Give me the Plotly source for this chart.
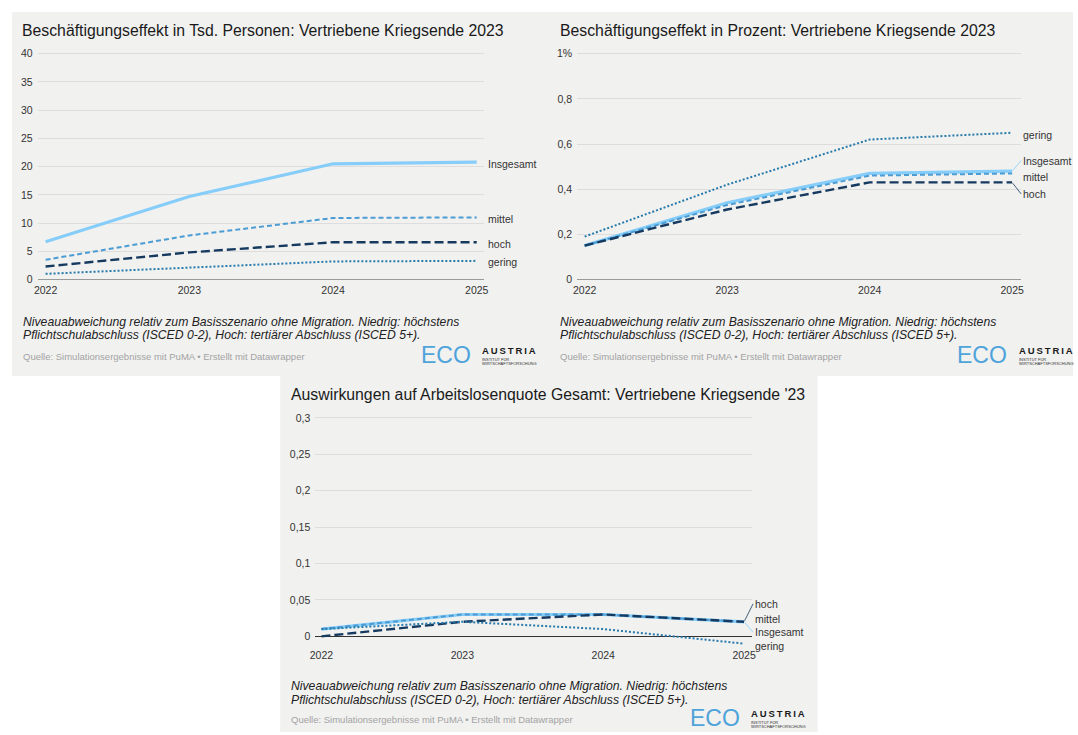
import plotly.graph_objects as go

W, H = 1078, 735
FONT = "Liberation Sans, Arial, Helvetica, sans-serif"

# ---------------------------------------------------------------- data
years = [2022, 2023, 2024, 2025]
year_labels = ["2022", "2023", "2024", "2025"]

# Beschäftigungseffekt in Tsd. Personen
tsd_insgesamt = [6.7, 14.7, 20.5, 20.8]
tsd_mittel = [3.5, 7.8, 10.9, 11.0]
tsd_hoch = [2.3, 4.8, 6.6, 6.6]
tsd_gering = [1.0, 2.1, 3.2, 3.3]
tsd_ticks = [0, 5, 10, 15, 20, 25, 30, 35, 40]
tsd_ticktext = ["0", "5", "10", "15", "20", "25", "30", "35", "40"]

# Beschäftigungseffekt in Prozent
pct_insgesamt = [0.15, 0.34, 0.47, 0.48]
pct_mittel = [0.15, 0.33, 0.46, 0.47]
pct_hoch = [0.15, 0.31, 0.43, 0.43]
pct_gering = [0.19, 0.42, 0.62, 0.65]
pct_ticks = [0, 0.2, 0.4, 0.6, 0.8, 1.0]
pct_ticktext = ["0", "0,2", "0,4", "0,6", "0,8", "1%"]

# Auswirkungen auf die Arbeitslosenquote
alq_insgesamt = [0.01, 0.03, 0.03, 0.02]
alq_mittel = [0.01, 0.03, 0.03, 0.02]
alq_hoch = [0.0, 0.02, 0.03, 0.02]
alq_gering = [0.01, 0.02, 0.01, -0.01]
alq_ticks = [0, 0.05, 0.1, 0.15, 0.2, 0.25, 0.3]
alq_ticktext = ["0", "0,05", "0,1", "0,15", "0,2", "0,25", "0,3"]

titles = [
    "Beschäftigungseffekt in Tsd. Personen: Vertriebene Kriegsende 2023",
    "Beschäftigungseffekt in Prozent: Vertriebene Kriegsende 2023",
    "Auswirkungen auf Arbeitslosenquote Gesamt: Vertriebene Kriegsende '23",
]
note_line1 = "Niveauabweichung relativ zum Basisszenario ohne Migration. Niedrig: höchstens"
note_line2 = "Pflichtschulabschluss (ISCED 0-2), Hoch: tertiärer Abschluss (ISCED 5+)."
source = "Quelle: Simulationsergebnisse mit PuMA • Erstellt mit Datawrapper"

# ---------------------------------------------------------------- styles
STYLE = {
    "Insgesamt": dict(color="#86cdf9", width=3.2, dash="solid"),
    "mittel": dict(color="#4b9cd3", width=2.0, dash="5px,3px"),
    "hoch": dict(color="#163a5f", width=2.4, dash="9px,4px"),
    "gering": dict(color="#2679ab", width=2.0, dash="2px,2px"),
}
ORDER = ["Insgesamt", "mittel", "hoch", "gering"]
BG = "#f1f1f0"
GRID = "#dddddd"
TXT = "#333333"


def px_x(p):
    return p / W


def px_y(p):
    return 1 - p / H


def x_axis_geom(px_first, px_last, px_lo, px_hi):
    step = (px_last - px_first) / (len(years) - 1)
    lo = years[0] + (px_lo - px_first) / step
    hi = years[-1] + (px_hi - px_last) / step
    return [px_x(px_lo), px_x(px_hi)], [lo, hi]


def y_axis_geom(px_zero, px_top, top_val, lo, hi):
    s = (px_zero - px_top) / top_val
    bottom = px_zero - lo * s
    top = px_zero - hi * s
    return [px_y(bottom), px_y(top)], [lo, hi]


# panel geometry (pixels)
panels = [
    dict(
        data={"Insgesamt": tsd_insgesamt, "mittel": tsd_mittel,
              "hoch": tsd_hoch, "gering": tsd_gering},
        ticks=tsd_ticks, ticktext=tsd_ticktext, top_val=40,
        x=(40, 475.6, 32, 483), y=(277.5, 49.3), yrange=(-0.4, 40.25),
        base_color="#9a9a9a", base_width=1.8, xpos=None,
        label_dy={"Insgesamt": 1.5, "mittel": 1.5, "hoch": 1.5, "gering": 1.5},
        connectors=set(),
        left=14.6, title_y=25.5, note_y=320, src_y=355.5, logo_x=417, logo_y=354,
    ),
    dict(
        data={"Insgesamt": pct_insgesamt, "mittel": pct_mittel,
              "hoch": pct_hoch, "gering": pct_gering},
        ticks=pct_ticks, ticktext=pct_ticktext, top_val=1.0,
        x=(584.6, 1016.5, 577, 1025), y=(277.5, 49.3), yrange=(-0.01, 1.006),
        base_color="#9a9a9a", base_width=1.8, xpos=None,
        label_dy={"Insgesamt": -10.5, "mittel": 4, "hoch": 11.5, "gering": 2},
        connectors={"Insgesamt", "hoch"},
        left=557.2, title_y=25.5, note_y=320, src_y=355.5, logo_x=959, logo_y=354,
    ),
    dict(
        data={"Insgesamt": alq_insgesamt, "mittel": alq_mittel,
              "hoch": alq_hoch, "gering": alq_gering},
        ticks=alq_ticks, ticktext=alq_ticktext, top_val=0.3,
        x=(318.7, 745.7, 312.5, 753.9), y=(638.3, 417.4), yrange=(-0.02, 0.302),
        base_color="#333333", base_width=1.0, xpos=648.5,
        label_dy={"Insgesamt": 10.5, "mittel": -3, "hoch": -18, "gering": 2},
        connectors={"Insgesamt", "hoch"},
        left=285.7, title_y=394, note_y=688.5, src_y=722.5, logo_x=689, logo_y=721,
    ),
]

fig = go.Figure()
layout = dict(
    width=W, height=H, autosize=False,
    margin=dict(l=0, r=0, t=0, b=0),
    paper_bgcolor="white", plot_bgcolor="rgba(0,0,0,0)",
    showlegend=False, font=dict(family=FONT, color=TXT),
)
shapes = [
    # panel backgrounds
    dict(type="rect", xref="paper", yref="paper", layer="below",
         x0=px_x(6), x1=px_x(1078), y0=px_y(375), y1=px_y(7),
         fillcolor=BG, line=dict(width=0)),
    dict(type="rect", xref="paper", yref="paper", layer="below",
         x0=px_x(277), x1=px_x(820), y0=px_y(735), y1=px_y(375),
         fillcolor=BG, line=dict(width=0)),
]
annotations = []

for i, p in enumerate(panels, start=1):
    sfx = "" if i == 1 else str(i)
    xname, yname = "x" + sfx, "y" + sfx
    xdom, xrng = x_axis_geom(*p["x"])
    ydom, yrng = y_axis_geom(p["y"][0], p["y"][1], p["top_val"], *p["yrange"])

    xaxis = dict(
        domain=xdom, range=xrng, tickmode="array", tickvals=years,
        ticktext=year_labels, showgrid=False, zeroline=False, showline=False,
        ticks="", tickfont=dict(size=10.5, color=TXT, family=FONT),
        ticklabelstandoff=1, fixedrange=True,
    )
    if p["xpos"] is None:
        xaxis["anchor"] = yname
    else:
        xaxis["anchor"] = "free"
        xaxis["position"] = px_y(p["xpos"])
    # the zero line doubles as the chart baseline
    yaxis = dict(
        domain=ydom, range=yrng, anchor=xname, tickmode="array",
        tickvals=p["ticks"], ticktext=p["ticktext"], showgrid=True,
        gridcolor=GRID, gridwidth=1, showline=False,
        zeroline=True, zerolinecolor=p["base_color"], zerolinewidth=p["base_width"],
        ticks="", tickfont=dict(size=10.5, color=TXT, family=FONT),
        ticklabelstandoff=4, fixedrange=True,
    )
    layout["xaxis" + sfx] = xaxis
    layout["yaxis" + sfx] = yaxis

    for name in ORDER:
        st = STYLE[name]
        fig.add_trace(go.Scatter(
            x=years, y=p["data"][name], mode="lines", name=name,
            xaxis=xname, yaxis=yname, hoverinfo="skip",
            line=dict(color=st["color"], width=st["width"], dash=st["dash"],
                      shape="linear"),
        ))

    # direct series labels at the line ends
    for name in ORDER:
        st = STYLE[name]
        end_val = p["data"][name][-1]
        dy = p["label_dy"][name]
        common = dict(
            x=years[-1], y=end_val, xref=xname, yref=yname, text=name,
            xanchor="left", yanchor="middle",
            font=dict(size=10.5, color=TXT, family=FONT),
        )
        if name in p["connectors"]:
            annotations.append(dict(
                **common, showarrow=True, axref="pixel", ayref="pixel",
                ax=9, ay=dy, arrowhead=0, arrowwidth=0.8,
                arrowcolor=st["color"], standoff=1,
            ))
        else:
            annotations.append(dict(**common, showarrow=False, xshift=9, yshift=-dy))

    # title, notes, source
    annotations.append(dict(
        x=px_x(p["left"]), y=px_y(p["title_y"]), xref="paper", yref="paper",
        text=titles[i - 1], showarrow=False, xanchor="left", yanchor="middle",
        font=dict(size=15.8, color="#1a1a1a", family=FONT),
    ))
    for k, line_txt in enumerate([note_line1, note_line2]):
        annotations.append(dict(
            x=px_x(p["left"] + 0.5), y=px_y(p["note_y"] + 14 * k),
            xref="paper", yref="paper", text="<i>" + line_txt + "</i>",
            showarrow=False, xanchor="left", yanchor="middle",
            font=dict(size=12.2, color="#222222", family=FONT),
        ))
    annotations.append(dict(
        x=px_x(p["left"] + 0.5), y=px_y(p["src_y"]), xref="paper", yref="paper",
        text=source, showarrow=False, xanchor="left", yanchor="middle",
        font=dict(size=9.5, color="#a3a3a3", family=FONT),
    ))

    # ECO Austria wordmark
    lx, ly = p["logo_x"], p["logo_y"]
    annotations.append(dict(
        x=px_x(lx), y=px_y(ly), xref="paper", yref="paper", text="ECO",
        showarrow=False, xanchor="left", yanchor="middle",
        font=dict(size=23, color="#4ea4da", family=FONT),
    ))
    annotations.append(dict(
        x=px_x(lx + 62), y=px_y(ly - 5), xref="paper", yref="paper",
        text="\u2009".join("AUSTRIA"), showarrow=False,
        xanchor="left", yanchor="middle",
        font=dict(size=9.5, color="#1a1a1a", family=FONT, weight="bold"),
    ))
    for k, small in enumerate(["INSTITUT FÜR", "WIRTSCHAFTSFORSCHUNG"]):
        annotations.append(dict(
            x=px_x(lx + 62), y=px_y(ly + 4 + 4 * k), xref="paper", yref="paper",
            text=small, showarrow=False, xanchor="left", yanchor="middle",
            font=dict(size=4, color="#333333", family=FONT),
        ))

layout["shapes"] = shapes
layout["annotations"] = annotations
fig.update_layout(**layout)

# pin the figure to the page's top-left corner
page_js = ("document.documentElement.style.margin='0';"
           "document.body.style.margin='0';"
           "document.body.style.overflow='hidden';")
fig.write_html("out.html", config={"displayModeBar": False, "staticPlot": True},
               post_script=page_js)
